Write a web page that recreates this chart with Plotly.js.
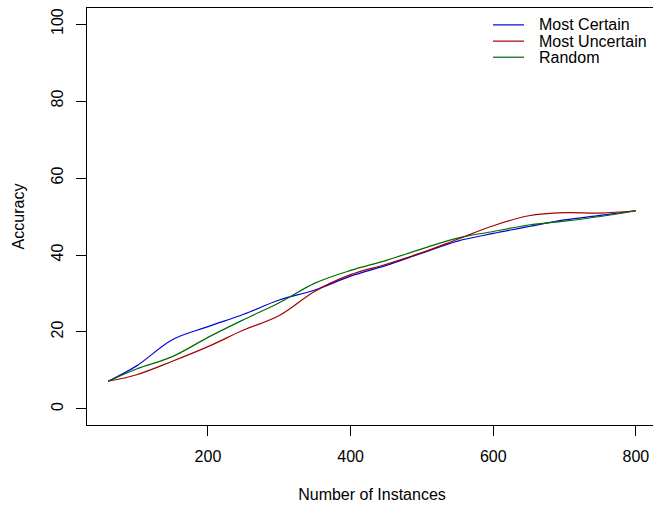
<!DOCTYPE html>
<html>
<head>
<meta charset="utf-8">
<script src="https://cdn.plot.ly/plotly-3.0.1.min.js"></script>
<style>
html, body { margin: 0; padding: 0; overflow: hidden; background: #fff; }
#chart { width: 665px; height: 505px; }
</style>
</head>
<body>
<div id="chart"></div>
<script>
// Data
const instances = [60, 100, 150, 200, 250, 300, 350, 400, 450, 500, 550, 600, 650, 700, 750, 800];
const mostCertain   = [7.2, 11.2, 18.0, 21.4, 24.6, 28.3, 30.9, 34.5, 37.3, 40.5, 43.6, 45.6, 47.4, 49.1, 50.3, 51.5];
const mostUncertain = [7.2, 8.9, 12.4, 16.2, 20.5, 24.3, 30.6, 34.9, 37.6, 40.6, 44.1, 47.6, 50.2, 51.0, 50.9, 51.5];
const randomSel     = [7.2, 10.4, 13.6, 18.6, 23.2, 27.6, 32.7, 36.0, 38.6, 41.6, 44.4, 46.1, 47.8, 48.8, 50.0, 51.5];
const seriesNames = ["Most Certain", "Most Uncertain", "Random"];
const xTicks = [200, 400, 600, 800];
const yTicks = [0, 20, 40, 60, 80, 100];

const colors = ["#0000E0", "#A00000", "#006A00"];
const values = [mostCertain, mostUncertain, randomSel];
const FONT = "Liberation Sans, Arial, Helvetica, sans-serif";

const traces = values.map((v, i) => ({
  x: instances, y: v, type: "scatter", mode: "lines", name: seriesNames[i],
  line: { color: colors[i], width: 1.2, shape: "spline", smoothing: 1 },
  showlegend: false, hoverinfo: "skip"
}));

// manual R-style legend (no box)
const legX0 = 0.7123, legX1 = 0.7667, legTextX = 0.7912;
const legY = [0.9595, 0.9205, 0.882];
const shapes = seriesNames.map((n, i) => ({
  type: "line", xref: "paper", yref: "paper",
  x0: legX0, x1: legX1, y0: legY[i], y1: legY[i],
  line: { color: colors[i], width: 1.2 }
}));
const annotations = seriesNames.map((n, i) => ({
  text: n, xref: "paper", yref: "paper", x: legTextX, y: legY[i],
  xanchor: "left", yanchor: "middle", showarrow: false,
  font: { family: FONT, size: 16, color: "#000" }, borderpad: 0
}));

const layout = {
  width: 665, height: 505,
  margin: { l: 87, r: 8, t: 8, b: 80 },
  paper_bgcolor: "#fff", plot_bgcolor: "#fff",
  font: { family: FONT, size: 16, color: "#000" },
  showlegend: false,
  xaxis: {
    range: [30.4, 829.6], tickvals: xTicks, ticktext: xTicks.map(String),
    ticks: "outside", ticklen: 10, tickwidth: 1, tickcolor: "#000",
    showline: true, mirror: true, linecolor: "#000", linewidth: 1.3,
    showgrid: false, zeroline: false, automargin: false,
    ticklabelstandoff: 6,
    tickfont: { family: FONT, size: 16, color: "#000" },
    title: { text: "Number of Instances", font: { family: FONT, size: 16, color: "#000" }, standoff: 25 }
  },
  yaxis: {
    range: [-4.16, 104.16], tickvals: yTicks, ticktext: yTicks.map(String),
    ticks: "outside", ticklen: 10, tickwidth: 1, tickcolor: "#000",
    showline: true, mirror: true, linecolor: "#000", linewidth: 1.3,
    showgrid: false, zeroline: false, automargin: false,
    tickangle: -90, ticklabelstandoff: 6,
    tickfont: { family: FONT, size: 16, color: "#000" },
    title: { text: "Accuracy", font: { family: FONT, size: 16, color: "#000" }, standoff: 20 }
  },
  shapes: shapes,
  annotations: annotations
};

Plotly.newPlot("chart", traces, layout, { staticPlot: true, displayModeBar: false });
</script>
</body>
</html>
